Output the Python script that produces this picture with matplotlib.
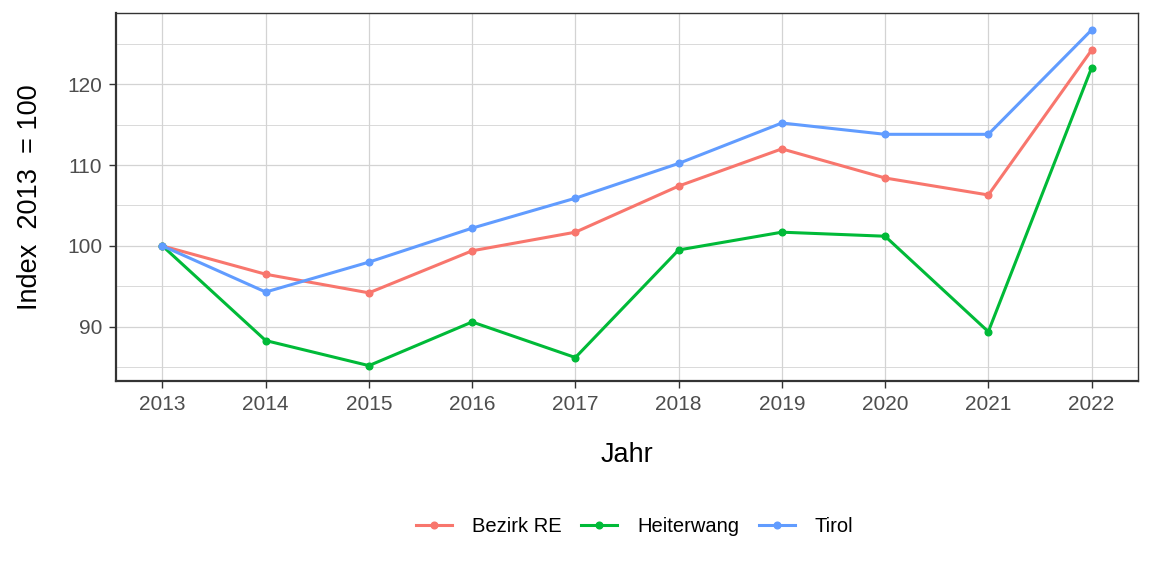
import matplotlib
matplotlib.use("Agg")
import matplotlib.pyplot as plt
from matplotlib.lines import Line2D

plt.rcParams['font.family'] = ['Liberation Sans', 'DejaVu Sans']

years = [2013, 2014, 2015, 2016, 2017, 2018, 2019, 2020, 2021, 2022]
bezirk_re = [100.0, 96.5, 94.2, 99.4, 101.7, 107.4, 112.0, 108.4, 106.3, 124.2]
heiterwang = [100.0, 88.3, 85.2, 90.6, 86.2, 99.5, 101.7, 101.2, 89.4, 122.0]
tirol = [100.0, 94.3, 98.0, 102.2, 105.9, 110.2, 115.2, 113.8, 113.8, 126.7]

series = [("Bezirk RE", bezirk_re, "#F8766D"),
          ("Heiterwang", heiterwang, "#00BA38"),
          ("Tirol", tirol, "#619CFF")]

fig = plt.figure(figsize=(11.52, 5.76), dpi=100)
ax = fig.add_axes([116/1152, 1-381/576, (1138-116)/1152, (381-13)/576])

for name, vals, col in series:
    ax.plot(years, vals, color=col, lw=2.2, marker='o', ms=4.8, label=name, zorder=3)

ax.set_xlim(2012.55, 2022.45)
ax.set_ylim(83.3, 128.8)
ax.set_xticks(years)
ax.set_yticks([90, 100, 110, 120])
ax.set_yticks([85, 95, 105, 115, 125], minor=True)
ax.grid(which='major', color='#d3d3d3', lw=0.9)
ax.grid(which='minor', color='#d3d3d3', lw=0.6)
ax.set_axisbelow(True)
ax.tick_params(which='major', labelsize=15, colors='#333333', labelcolor='#4d4d4d',
               length=5, width=1.0, pad=5)
ax.tick_params(which='minor', length=0)
for s in ax.spines.values():
    s.set_color('#333333')
    s.set_linewidth(1.0)
ax.spines['bottom'].set_linewidth(1.6)
ax.spines['left'].set_linewidth(1.6)

ax.set_xlabel("Jahr", fontsize=19.5, labelpad=20)
ax.set_ylabel("Index  2013  = 100", fontsize=19.5, labelpad=17)

handles = [Line2D([0], [0], color=c, lw=2.2, marker='o', ms=4.8) for _, _, c in series]
fig.legend(handles, [n for n, _, _ in series], loc='center', bbox_to_anchor=(0.551, 1-527/576),
           ncol=3, frameon=False, fontsize=14.5, handlelength=1.8, columnspacing=0.95,
           handletextpad=1.0)

fig.savefig("out.png", dpi=100)
